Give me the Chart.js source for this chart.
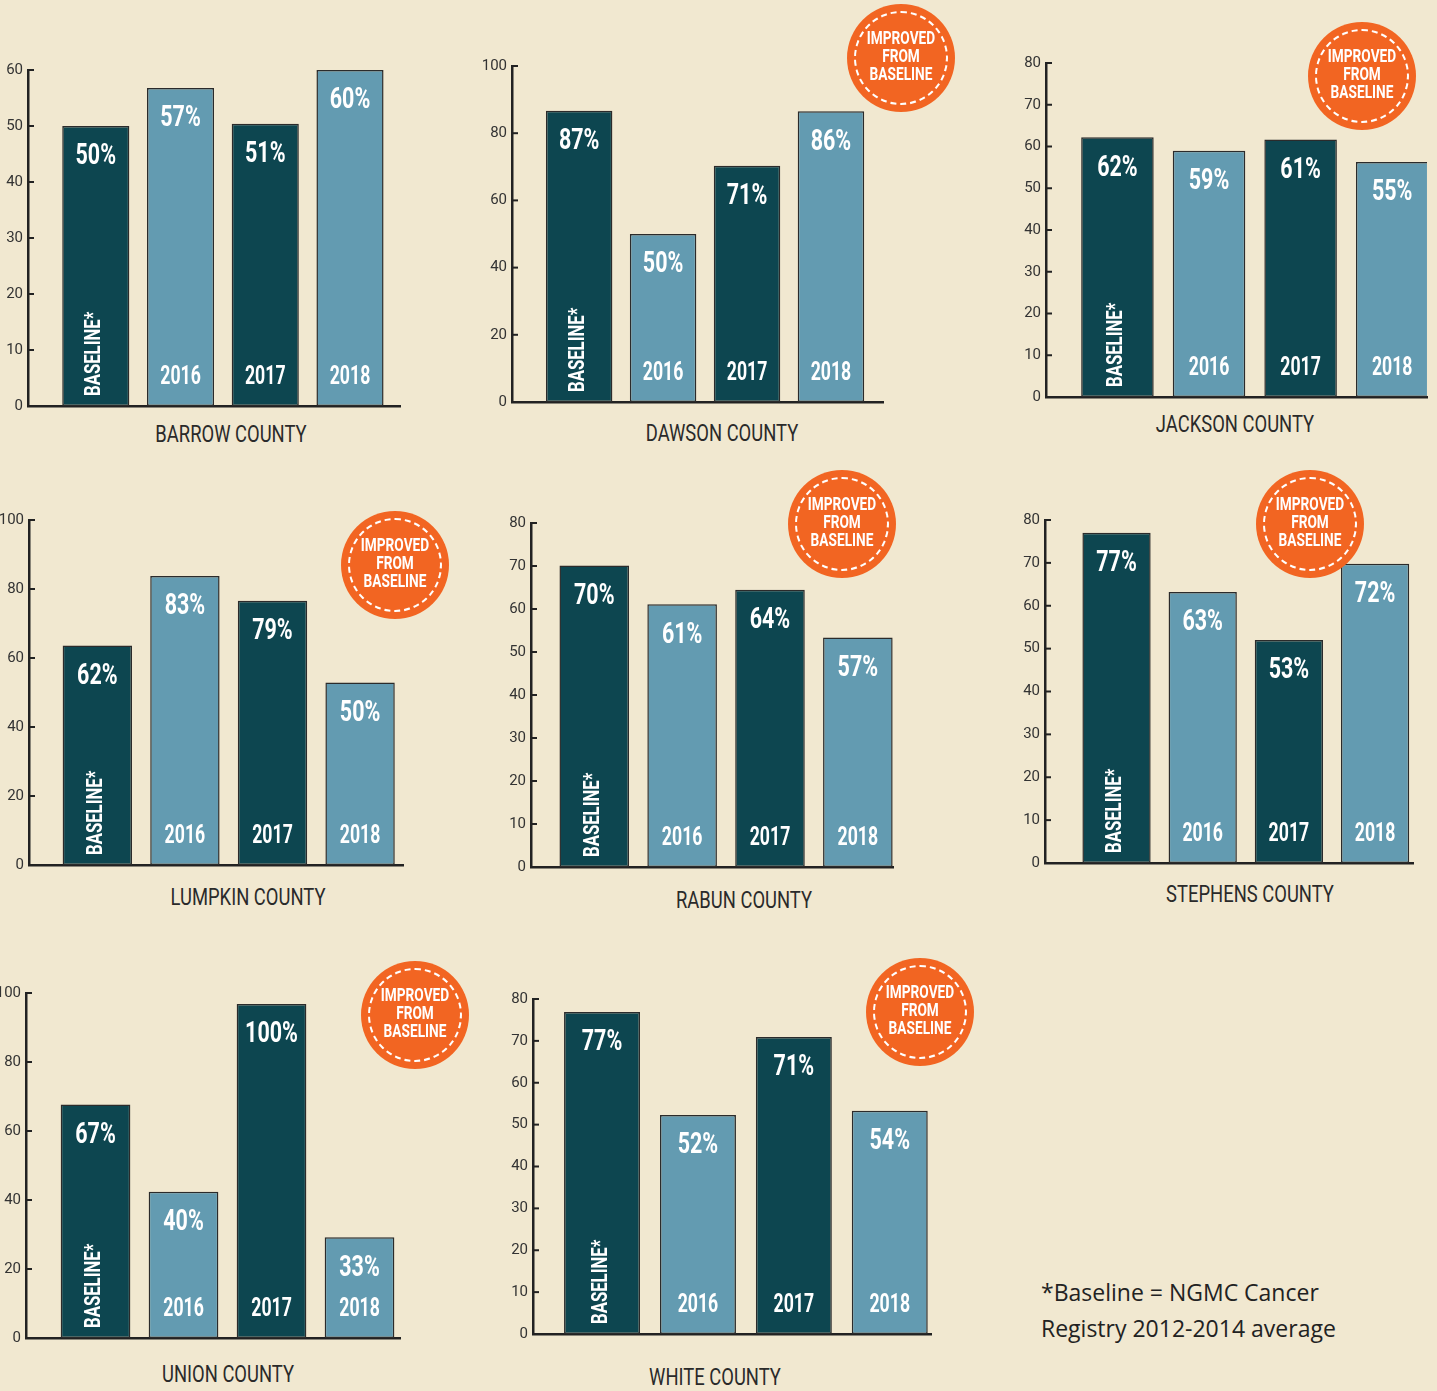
<!DOCTYPE html>
<html lang="en">
<head>
  <meta charset="UTF-8" />
  <title>Screening rate by county</title>
  <script src="https://cdn.jsdelivr.net/npm/chart.js"></script>
  <style>
    html, body { margin: 0; padding: 0; }
    body { width: 1437px; height: 1391px; background: #f1e8d0; position: relative; overflow: hidden; font-family: Roboto, sans-serif; }
    canvas { position: absolute; }
    .title { position: absolute; width: 300px; margin-left: -150px; text-align: center; font-size: 23px; color: #2a2a2a; transform: scaleX(0.8); line-height: 24px; margin-top: -12px; }
    .badge { position: absolute; width: 108px; height: 108px; margin: -54px 0 0 -54px; border-radius: 50%; background: #f26522; z-index: 5; }
    .badge .ring { position: absolute; left: 7px; top: 7px; right: 7px; bottom: 7px; border: 2.5px dashed #fff; border-radius: 50%; }
    .badge .txt { position: absolute; left: 0; right: 0; top: 25px; text-align: center; color: #fff; font-weight: bold; font-size: 19px; line-height: 18px; transform: scaleX(0.72); }
    .note { position: absolute; left: 1041px; top: 1274px; font-family: 'Open Sans', sans-serif; font-size: 23px; line-height: 36px; color: #222; }
  </style>
</head>
<body>
  <div class="note">*Baseline = NGMC Cancer<br>Registry 2012-2014 average</div>

  <script>
    // categories
    const yearLabels = ['BASELINE*', '2016', '2017', '2018'];
    const counties = ['BARROW COUNTY', 'DAWSON COUNTY', 'JACKSON COUNTY', 'LUMPKIN COUNTY',
                      'RABUN COUNTY', 'STEPHENS COUNTY', 'UNION COUNTY', 'WHITE COUNTY'];

    // bar heights as drawn
    const barrowVals   = [50, 56.8, 50.4, 60];
    const dawsonVals   = [86.7, 50, 70.3, 86.5];
    const jacksonVals  = [62.2, 59, 61.7, 56.3];
    const lumpkinVals  = [63.6, 83.8, 76.6, 52.9];
    const rabunVals    = [70.1, 61.1, 64.5, 53.4];
    const stephensVals = [77, 63.2, 52, 69.8];
    const unionVals    = [67.7, 42.4, 96.8, 29.2];
    const whiteVals    = [76.9, 52.3, 70.9, 53.3];

    // printed percentages
    const barrowPct   = [50, 57, 51, 60];
    const dawsonPct   = [87, 50, 71, 86];
    const jacksonPct  = [62, 59, 61, 55];
    const lumpkinPct  = [62, 83, 79, 50];
    const rabunPct    = [70, 61, 64, 57];
    const stephensPct = [77, 63, 53, 72];
    const unionPct    = [67, 40, 100, 33];
    const whitePct    = [77, 52, 71, 54];

    // y axis ranges
    const axisMax  = [60, 100, 80, 100, 80, 80, 100, 80];
    const axisStep = [10, 20, 10, 20, 10, 10, 20, 10];
    const improved = [false, true, true, true, true, true, true, true];

    const allVals = [barrowVals, dawsonVals, jacksonVals, lumpkinVals, rabunVals, stephensVals, unionVals, whiteVals];
    const allPct  = [barrowPct, dawsonPct, jacksonPct, lumpkinPct, rabunPct, stephensPct, unionPct, whitePct];

    // page layout: axis box, x range, title, badge
    const layout = [
      { x0: 28,   x1: 400,  yt: 70,  yb: 408,  xmin: -0.80, xmax: 3.59, tx: 231,  ty: 435,  bx: 0,    by: 0 },
      { x0: 512,  x1: 883,  yt: 66,  yb: 404,  xmin: -0.80, xmax: 3.62, tx: 722,  ty: 434,  bx: 901,  by: 58 },
      { x0: 1046, x1: 1427, yt: 63,  yb: 399,  xmin: -0.78, xmax: 3.38, tx: 1235, ty: 425,  bx: 1362, by: 76 },
      { x0: 29,   x1: 403,  yt: 520, yb: 867,  xmin: -0.78, xmax: 3.49, tx: 248,  ty: 898,  bx: 395,  by: 565 },
      { x0: 531,  x1: 893,  yt: 523, yb: 869,  xmin: -0.72, xmax: 3.40, tx: 744,  ty: 901,  bx: 842,  by: 524 },
      { x0: 1045, x1: 1413, yt: 520, yb: 865,  xmin: -0.83, xmax: 3.44, tx: 1250, ty: 895,  bx: 1310, by: 524 },
      { x0: 26,   x1: 400,  yt: 993, yb: 1340, xmin: -0.79, xmax: 3.46, tx: 228,  ty: 1375, bx: 415,  by: 1015 },
      { x0: 533,  x1: 931,  yt: 999, yb: 1336, xmin: -0.72, xmax: 3.43, tx: 715,  ty: 1378, bx: 920,  by: 1012 }
    ];

    const DARK = '#0d4650';
    const LIGHT = '#639bb1';
    const PADL = 45, PADT = 15, PADR = 6, PADB = 12;

    function condensedText(ctx, text, x, y, size, sx, align) {
      ctx.save();
      ctx.translate(x, y);
      ctx.scale(sx, 1);
      ctx.font = 'bold ' + size + 'px Roboto';
      ctx.textAlign = align || 'center';
      ctx.textBaseline = 'middle';
      ctx.fillStyle = '#fff';
      ctx.fillText(text, 0, 0);
      ctx.restore();
    }

    const barLabels = {
      id: 'barLabels',
      afterDatasetsDraw(chart, args, opts) {
        const ctx = chart.ctx;
        const meta = chart.getDatasetMeta(0);
        meta.data.forEach((bar, i) => {
          condensedText(ctx, opts.pct[i] + '%', bar.x, bar.y + 31, 29, 0.74);
          if (i === 0) {
            ctx.save();
            ctx.translate(bar.x - 1, bar.base - 10);
            ctx.rotate(-Math.PI / 2);
            condensedText(ctx, yearLabels[0], 0, 0, 22, 0.76, 'left');
            ctx.restore();
          } else {
            condensedText(ctx, yearLabels[i], bar.x, bar.base - 29, 26, 0.68);
          }
        });
        // short tick marks pointing inward from the y axis
        const y = chart.scales.y;
        ctx.save();
        ctx.strokeStyle = '#222';
        ctx.lineWidth = 2;
        y.ticks.forEach((t, i) => {
          const py = y.getPixelForTick(i);
          ctx.beginPath();
          ctx.moveTo(chart.chartArea.left, py);
          ctx.lineTo(chart.chartArea.left + 6, py);
          ctx.stroke();
        });
        ctx.restore();
      }
    };

    counties.forEach((name, c) => {
      const L = layout[c];
      const w = L.x1 - L.x0 + PADL + PADR;
      const h = L.yb - L.yt + PADT + PADB;
      const cv = document.createElement('canvas');
      cv.width = w; cv.height = h;
      cv.style.left = (L.x0 - PADL) + 'px';
      cv.style.top = (L.yt - PADT) + 'px';
      cv.style.width = w + 'px';
      cv.style.height = h + 'px';
      document.body.appendChild(cv);

      new Chart(cv, {
        type: 'bar',
        data: {
          datasets: [{
            data: allVals[c].map((v, i) => ({ x: i, y: v })),
            backgroundColor: [DARK, LIGHT, DARK, LIGHT],
            borderColor: '#2b2b2b',
            borderWidth: 1.5,
            borderSkipped: false,
            barPercentage: 0.88,
            categoryPercentage: 0.9
          }]
        },
        options: {
          responsive: false,
          animation: false,
          devicePixelRatio: 1,
          layout: { padding: { top: PADT, right: PADR, bottom: PADB, left: 0 } },
          plugins: { legend: { display: false }, tooltip: { enabled: false }, barLabels: { pct: allPct[c] } },
          scales: {
            x: {
              type: 'linear',
              offset: false,
              min: L.xmin, max: L.xmax,
              grid: { display: false },
              ticks: { display: false },
              border: { display: true, color: '#222', width: 2.5 },
              // one hidden tick per bar so the bar width follows the bar spacing
              afterBuildTicks(s) { s.ticks = yearLabels.map((_, i) => ({ value: i })); },
              afterFit(s) { s.height = 0; }
            },
            y: {
              min: 0, max: axisMax[c],
              grid: { display: false, drawTicks: false },
              border: { display: true, color: '#222', width: 2.5 },
              ticks: {
                stepSize: axisStep[c], padding: 5, color: '#333',
                font: { family: 'Roboto', size: 15 }
              },
              afterFit(s) { s.width = PADL; }
            }
          }
        },
        plugins: [barLabels]
      });

      const t = document.createElement('div');
      t.className = 'title';
      t.textContent = name;
      t.style.left = L.tx + 'px';
      t.style.top = L.ty + 'px';
      document.body.appendChild(t);

      if (improved[c]) {
        const b = document.createElement('div');
        b.className = 'badge';
        b.style.left = L.bx + 'px';
        b.style.top = L.by + 'px';
        b.innerHTML = '<div class="ring"></div><div class="txt">IMPROVED<br>FROM<br>BASELINE</div>';
        document.body.appendChild(b);
      }
    });
  </script>
</body>
</html>
